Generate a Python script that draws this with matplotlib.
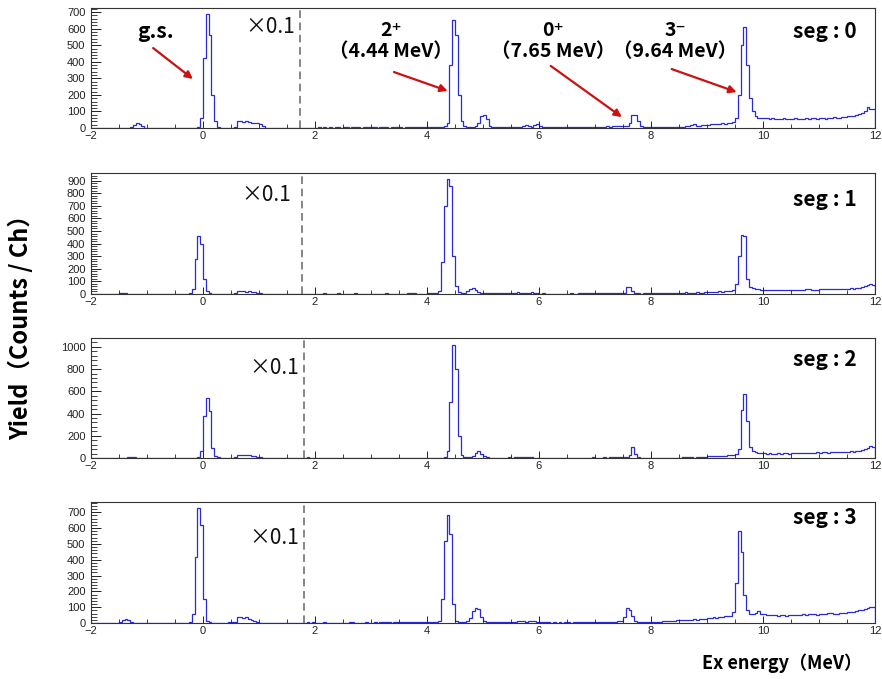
import numpy as np
import matplotlib
matplotlib.use('Agg')
from matplotlib import pyplot as plt
from matplotlib.ticker import MultipleLocator

# Ex energy histogram, 0.05 MeV bins from -2 to 12 MeV (one row = 1 MeV)
e_min, e_max, bin_w = -2.0, 12.0, 0.05

seg0 = [
    0, 0, 0, 0, 0, 0, 0, 0, 0, 0, 0, 0, 0, 0, 5, 20, 30, 25, 10, 3,
    0, 0, 0, 0, 0, 0, 0, 0, 0, 0, 0, 0, 2, 2, 3, 2, 2, 3, 5, 60,
    420, 690, 560, 200, 40, 8, 3, 2, 2, 3, 3, 5, 45, 40, 35, 42, 35, 30, 32, 28,
    25, 12, 3, 2, 0, 0, 0, 0, 0, 0, 3, 0, 0, 0, 0, 3, 0, 0, 0, 0,
    3, 4, 3, 5, 3, 4, 3, 5, 4, 3, 4, 5, 3, 4, 5, 4, 3, 4, 5, 4,
    4, 5, 3, 4, 5, 4, 3, 5, 4, 5, 4, 3, 5, 4, 5, 6, 4, 5, 4, 5,
    5, 4, 5, 6, 5, 8, 12, 30, 380, 650, 560, 200, 40, 10, 8, 6, 8, 10, 30, 70,
    78, 55, 15, 5, 5, 4, 5, 4, 5, 6, 5, 6, 5, 6, 10, 18, 10, 8, 20, 25,
    15, 6, 5, 6, 5, 4, 5, 6, 5, 4, 5, 6, 5, 6, 7, 6, 7, 8, 7, 8,
    8, 9, 8, 9, 10, 9, 10, 11, 10, 12, 11, 14, 30, 80, 78, 45, 12, 6, 5, 6,
    6, 5, 6, 5, 6, 7, 6, 7, 8, 7, 8, 9, 10, 12, 18, 22, 15, 14, 16, 18,
    20, 22, 25, 24, 26, 28, 27, 30, 30, 35, 60, 200, 500, 610, 380, 180, 100, 70, 62, 58,
    60, 58, 55, 58, 54, 57, 55, 58, 54, 56, 55, 58, 55, 54, 57, 59, 56, 58, 60, 57,
    58, 60, 57, 62, 59, 64, 60, 62, 66, 64, 70, 72, 74, 78, 82, 92, 105, 128, 112, 115,
]

seg1 = [
    0, 0, 0, 0, 0, 0, 0, 0, 0, 0, 5, 10, 8, 2, 0, 0, 0, 0, 0, 0,
    0, 0, 0, 0, 0, 0, 0, 0, 0, 0, 0, 0, 0, 0, 0, 5, 40, 280, 460, 400,
    120, 20, 5, 3, 2, 2, 2, 2, 3, 3, 3, 5, 20, 22, 20, 18, 20, 15, 12, 8,
    5, 3, 2, 0, 0, 3, 0, 0, 0, 0, 2, 0, 0, 0, 0, 3, 3, 0, 0, 0,
    3, 0, 0, 4, 0, 3, 0, 0, 5, 0, 0, 3, 0, 0, 4, 0, 0, 3, 0, 0,
    0, 3, 0, 0, 3, 4, 3, 0, 0, 3, 0, 0, 3, 4, 5, 4, 3, 0, 0, 3,
    5, 4, 5, 8, 20, 250, 700, 910, 860, 300, 60, 15, 8, 10, 20, 40, 45, 30, 12, 6,
    5, 6, 5, 5, 4, 5, 6, 5, 5, 6, 5, 8, 12, 10, 8, 6, 10, 12, 8, 5,
    3, 4, 3, 0, 0, 3, 0, 3, 0, 0, 3, 4, 0, 3, 4, 5, 4, 6, 5, 4,
    5, 6, 8, 10, 6, 7, 5, 6, 8, 7, 8, 55, 58, 25, 6, 4, 3, 4, 5, 4,
    5, 4, 5, 6, 5, 6, 5, 6, 8, 10, 8, 10, 12, 10, 9, 10, 12, 11, 10, 12,
    15, 14, 16, 15, 20, 18, 22, 20, 25, 35, 80, 300, 470, 460, 120, 55, 45, 40, 38, 35,
    35, 30, 32, 30, 28, 32, 30, 35, 33, 30, 32, 35, 30, 33, 35, 38, 36, 34, 32, 35,
    38, 36, 40, 38, 36, 40, 42, 38, 36, 42, 40, 44, 42, 46, 50, 55, 62, 72, 78, 70,
]

seg2 = [
    0, 0, 0, 0, 0, 0, 0, 0, 0, 0, 0, 0, 0, 5, 10, 8, 3, 0, 0, 0,
    0, 0, 0, 0, 0, 0, 0, 0, 0, 0, 0, 0, 0, 0, 0, 0, 0, 0, 8, 60,
    380, 540, 420, 90, 15, 5, 3, 2, 2, 3, 4, 5, 25, 28, 26, 27, 25, 22, 18, 10,
    5, 3, 0, 0, 0, 0, 3, 0, 0, 0, 0, 0, 0, 0, 0, 3, 4, 5, 4, 0,
    0, 0, 3, 0, 0, 0, 0, 0, 0, 0, 0, 0, 0, 0, 0, 0, 0, 3, 0, 3,
    0, 0, 3, 4, 0, 0, 3, 4, 0, 0, 0, 0, 0, 0, 0, 3, 0, 0, 0, 0,
    3, 0, 0, 3, 0, 3, 5, 60, 500, 1020, 800, 200, 30, 10, 8, 10, 20, 45, 65, 40,
    15, 5, 3, 2, 3, 2, 3, 4, 3, 5, 4, 5, 6, 8, 10, 8, 6, 5, 4, 3,
    0, 0, 0, 3, 0, 0, 0, 0, 3, 0, 0, 0, 3, 0, 0, 3, 0, 4, 3, 5,
    3, 4, 3, 5, 4, 5, 6, 5, 8, 10, 8, 12, 30, 95, 40, 8, 4, 3, 4, 3,
    3, 0, 0, 3, 0, 4, 3, 0, 3, 0, 4, 5, 6, 5, 10, 4, 5, 6, 7, 8,
    15, 18, 16, 20, 18, 22, 20, 25, 28, 30, 40, 80, 430, 580, 330, 100, 60, 50, 45, 42,
    45, 40, 42, 38, 40, 43, 40, 45, 42, 40, 44, 46, 42, 45, 48, 44, 46, 48, 45, 50,
    48, 50, 52, 48, 50, 55, 52, 50, 55, 58, 55, 60, 58, 62, 65, 70, 80, 90, 105, 95,
]

seg3 = [
    0, 0, 0, 0, 0, 0, 0, 0, 0, 0, 5, 18, 25, 20, 8, 2, 0, 0, 0, 0,
    0, 0, 0, 0, 0, 0, 0, 0, 0, 0, 0, 0, 2, 3, 2, 8, 60, 420, 725, 620,
    150, 15, 5, 3, 2, 3, 2, 3, 3, 4, 5, 6, 40, 35, 30, 35, 28, 20, 12, 6,
    3, 2, 0, 0, 0, 3, 0, 0, 3, 0, 0, 0, 0, 0, 0, 0, 3, 4, 3, 5,
    3, 0, 0, 4, 0, 3, 0, 0, 0, 3, 0, 0, 4, 5, 3, 0, 0, 3, 4, 0,
    3, 4, 3, 5, 4, 5, 4, 3, 5, 4, 5, 4, 6, 5, 4, 5, 6, 5, 6, 5,
    5, 4, 6, 5, 10, 150, 520, 680, 560, 120, 15, 8, 5, 6, 10, 30, 75, 95, 90, 40,
    10, 5, 4, 5, 6, 5, 6, 8, 6, 7, 8, 9, 10, 12, 10, 8, 10, 12, 10, 8,
    6, 5, 4, 5, 3, 4, 3, 4, 3, 5, 4, 3, 4, 5, 4, 6, 5, 4, 6, 5,
    5, 6, 5, 7, 8, 7, 6, 8, 10, 12, 40, 92, 85, 45, 10, 5, 4, 5, 4, 5,
    5, 6, 7, 8, 10, 12, 14, 12, 15, 18, 20, 16, 18, 22, 20, 25, 22, 24, 26, 25,
    30, 32, 35, 34, 38, 40, 42, 45, 45, 70, 250, 580, 450, 180, 80, 60, 55, 65, 75, 60,
    55, 50, 52, 48, 50, 46, 48, 50, 45, 48, 50, 52, 48, 50, 55, 52, 58, 60, 55, 52,
    55, 58, 60, 65, 62, 60, 58, 62, 66, 64, 70, 68, 72, 75, 80, 85, 90, 95, 100, 98,
]

segments = [seg0, seg1, seg2, seg3]
seg_names = ['seg : 0', 'seg : 1', 'seg : 2', 'seg : 3']
y_max = [725, 960, 1080, 765]
y_major = [100, 100, 200, 100]
y_minor = [20, 20, 40, 20]
scale_cut = [1.73, 1.76, 1.81, 1.81]   # left of this line: x0.1

# where "x0.1" and "seg : n" sit in each panel (axes fraction)
x01_pos = [(0.228, 0.84), (0.223, 0.82), (0.233, 0.75), (0.233, 0.70)]
seg_y = [0.80, 0.78, 0.82, 0.875]

# panel boxes in pixels (top, bottom) of a 882x679 picture
panel_px = [(8, 128), (173, 294), (338, 458), (502, 623)]

plt.rcParams['font.family'] = ['Liberation Sans', 'DejaVu Sans']
jp = ['Noto Sans CJK JP', 'DejaVu Sans']
hist_col = '#2a2ad6'

fig = plt.figure(figsize=(8.82, 6.79), dpi=100)
edges = np.linspace(e_min, e_max, len(seg0) + 1)

axes = []
for i in range(4):
    top, bot = panel_px[i]
    ax = fig.add_axes([91/882, 1 - bot/679, 784/882, (bot - top)/679])
    ax.stairs(segments[i], edges, color=hist_col, lw=0.9)
    ax.axvline(scale_cut[i], color='#666666', lw=1.1, ls=(0, (5, 3)))
    ax.set_xlim(e_min, e_max)
    ax.set_ylim(0, y_max[i])
    ax.xaxis.set_major_locator(MultipleLocator(2))
    ax.xaxis.set_minor_locator(MultipleLocator(0.5))
    ax.yaxis.set_major_locator(MultipleLocator(y_major[i]))
    ax.yaxis.set_minor_locator(MultipleLocator(y_minor[i]))
    ax.tick_params(which='both', direction='in', top=False, right=False,
                   labelsize=8, colors='#222222')
    ax.tick_params(axis='y', which='major', length=7, width=0.7, pad=4)
    ax.tick_params(axis='y', which='minor', length=4, width=0.6)
    ax.tick_params(axis='x', which='major', length=5, width=0.7, pad=2)
    ax.tick_params(axis='x', which='minor', length=3, width=0.6)
    for s in ax.spines.values():
        s.set_linewidth(0.8)
        s.set_color('#333333')
    ax.text(0.977, seg_y[i], seg_names[i], transform=ax.transAxes, ha='right',
            va='center', fontsize=15, fontweight='bold', family=jp)
    ax.text(x01_pos[i][0], x01_pos[i][1], '×0.1', transform=ax.transAxes,
            ha='center', va='center', fontsize=15, family=jp, color='#111111')
    axes.append(ax)

# level labels on the top panel
ax = axes[0]
ax.text(0.0816, 0.80, 'g.s.', transform=ax.transAxes, ha='center', va='center',
        fontsize=15, fontweight='bold', family=jp)
levels = [('2⁺', '（4.44 MeV）', 0.383), ('0⁺', '（7.65 MeV）', 0.589), ('3⁻', '（9.64 MeV）', 0.745)]
for jpi, en, xf in levels:
    ax.text(xf, 0.815, jpi, transform=ax.transAxes, ha='center', va='center',
            fontsize=14, fontweight='bold', family=jp)
    ax.text(xf, 0.635, en, transform=ax.transAxes, ha='center', va='center',
            fontsize=14, fontweight='bold', family=jp)

arrows = [((-0.89, 483), (-0.18, 296)), ((3.41, 338), (4.37, 224)),
          ((6.21, 375), (7.48, 66)), ((8.37, 356), (9.53, 217))]
for start, tip in arrows:
    ax.annotate('', xy=tip, xytext=start,
                arrowprops=dict(arrowstyle='-|>', color='#cc1111', lw=1.6,
                                mutation_scale=11, shrinkA=0, shrinkB=0))

fig.text(20/882, 1 - 322/679, 'Yield（Counts / Ch）', rotation=90, ha='center',
         va='center', fontsize=17, fontweight='bold', family=jp)
fig.text(782/882, 1 - 663/679, 'Ex energy（MeV）', ha='center', va='center',
         fontsize=13, fontweight='bold', family=jp)

fig.savefig('out.png', dpi=100, facecolor='white')
